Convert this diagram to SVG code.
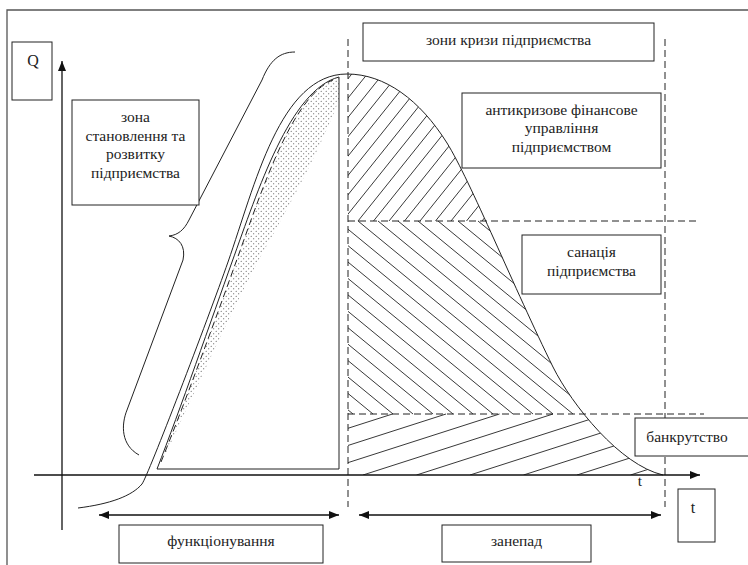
<svg xmlns="http://www.w3.org/2000/svg" width="748" height="565" viewBox="0 0 748 565">
<style>
.box{fill:#fff;stroke:#222;stroke-width:1}
.lbl{font-size:15.5px;fill:#222;text-anchor:middle}
.ln{fill:none;stroke:#222;stroke-width:1}
.dash{fill:none;stroke:#222;stroke-width:1;stroke-dasharray:7,4}
.axis{fill:none;stroke:#111;stroke-width:1.3}
.h{stroke:#222;stroke-width:0.9}
</style>
<defs>
<marker id="ah" viewBox="0 0 10 8" refX="10" refY="4" markerWidth="10" markerHeight="8" markerUnits="userSpaceOnUse" orient="auto-start-reverse">
<path d="M0,0 L10,4 L0,8 Z" fill="#111"/>
</marker>
<pattern id="dots" patternUnits="userSpaceOnUse" width="5" height="5">
<circle cx="1.2" cy="1.2" r="0.55" fill="#444"/>
<circle cx="3.7" cy="3.7" r="0.55" fill="#444"/>
</pattern>
<clipPath id="under">
<path d="M348,74 C385,74 420,100 447,143 C470,180 515,290 553,367 C572,405 620,465 663,475 L348,475 Z"/>
</clipPath>
</defs>
<rect width="748" height="565" fill="#fff"/>
<g id="frame">
<path d="M7,565 L7,10 L748,10" fill="none" stroke="#555" stroke-width="1.3"/>
</g>
<g id="dotted-zone">
<path d="M161,462 C184,405 216,318 236,262 C262,190 292,96 333,80 L339,78 L339,100 C320,150 290,205 257,263 C230,315 200,380 170,445 Z" fill="url(#dots)"/>
</g>
<g id="hatching" clip-path="url(#under)">
<g id="hatch-antikryz">
<line class="h" x1="234" y1="221" x2="363" y2="60"/>
<line class="h" x1="249.5" y1="221" x2="378.5" y2="60"/>
<line class="h" x1="265" y1="221" x2="394" y2="60"/>
<line class="h" x1="280.5" y1="221" x2="409.5" y2="60"/>
<line class="h" x1="296" y1="221" x2="425" y2="60"/>
<line class="h" x1="311.5" y1="221" x2="440.5" y2="60"/>
<line class="h" x1="327" y1="221" x2="456" y2="60"/>
<line class="h" x1="342.5" y1="221" x2="471.5" y2="60"/>
<line class="h" x1="358" y1="221" x2="487" y2="60"/>
<line class="h" x1="373.5" y1="221" x2="502.5" y2="60"/>
<line class="h" x1="389" y1="221" x2="518" y2="60"/>
<line class="h" x1="404.5" y1="221" x2="533.5" y2="60"/>
<line class="h" x1="420" y1="221" x2="549" y2="60"/>
<line class="h" x1="435.5" y1="221" x2="564.5" y2="60"/>
<line class="h" x1="451" y1="221" x2="580" y2="60"/>
<line class="h" x1="466.5" y1="221" x2="595.5" y2="60"/>
<line class="h" x1="482" y1="221" x2="611" y2="60"/>
</g>
<g id="hatch-sanatsiya">
<line class="h" x1="118" y1="221" x2="353" y2="414"/>
<line class="h" x1="138" y1="221" x2="373" y2="414"/>
<line class="h" x1="158" y1="221" x2="393" y2="414"/>
<line class="h" x1="178" y1="221" x2="413" y2="414"/>
<line class="h" x1="198" y1="221" x2="433" y2="414"/>
<line class="h" x1="218" y1="221" x2="453" y2="414"/>
<line class="h" x1="238" y1="221" x2="473" y2="414"/>
<line class="h" x1="258" y1="221" x2="493" y2="414"/>
<line class="h" x1="278" y1="221" x2="513" y2="414"/>
<line class="h" x1="298" y1="221" x2="533" y2="414"/>
<line class="h" x1="318" y1="221" x2="553" y2="414"/>
<line class="h" x1="338" y1="221" x2="573" y2="414"/>
<line class="h" x1="358" y1="221" x2="593" y2="414"/>
<line class="h" x1="378" y1="221" x2="613" y2="414"/>
<line class="h" x1="398" y1="221" x2="633" y2="414"/>
<line class="h" x1="418" y1="221" x2="653" y2="414"/>
<line class="h" x1="438" y1="221" x2="673" y2="414"/>
<line class="h" x1="458" y1="221" x2="693" y2="414"/>
<line class="h" x1="478" y1="221" x2="713" y2="414"/>
</g>
<g id="hatch-bankrut">
<line class="h" x1="202.5" y1="475" x2="392.5" y2="414"/>
<line class="h" x1="256" y1="475" x2="446" y2="414"/>
<line class="h" x1="309.5" y1="475" x2="499.5" y2="414"/>
<line class="h" x1="363" y1="475" x2="553" y2="414"/>
<line class="h" x1="416.5" y1="475" x2="606.5" y2="414"/>
<line class="h" x1="470" y1="475" x2="660" y2="414"/>
<line class="h" x1="523.5" y1="475" x2="713.5" y2="414"/>
<line class="h" x1="577" y1="475" x2="767" y2="414"/>
<line class="h" x1="630.5" y1="475" x2="820.5" y2="414"/>
</g>
</g>
<g id="curves">
<path class="ln" d="M78,508 C110,504 132,496 142,484 C148,476 208,319 228,262 C255,185 280,74 347,74 C385,74 420,100 447,143 C470,180 515,290 553,367 C572,405 620,465 663,475"/>
<path class="ln" d="M157,469 C180,410 212,318 232,262 C258,190 290,90 339,77 L339,469 Z"/>
<path class="dash" d="M161,462 C184,405 216,318 236,262 C262,190 292,96 333,80" stroke-dasharray="6,3"/>
<path class="ln" d="M295,52 C280,52 270,60 262,80 L189,220 C184,230 178,235 169,236 C179,238 186,246 183,260 L127,410 C121,425 121,445 139,455"/>
</g>
<g id="guides">
<line class="dash" x1="348" y1="39" x2="348" y2="507"/>
<line class="dash" x1="665" y1="39" x2="665" y2="507"/>
<line class="dash" x1="348" y1="221" x2="700" y2="221"/>
<line class="dash" x1="348" y1="414" x2="704" y2="414"/>
</g>
<g id="connectors">
<line class="axis" x1="62" y1="530" x2="62" y2="61" marker-end="url(#ah)"/>
<line class="axis" x1="34" y1="475" x2="700" y2="475" marker-end="url(#ah)"/>
<line class="axis" x1="99" y1="515" x2="339" y2="515" marker-start="url(#ah)" marker-end="url(#ah)"/>
<line class="axis" x1="359" y1="515" x2="661" y2="515" marker-start="url(#ah)" marker-end="url(#ah)"/>
</g>
<g id="labels" font-family="Liberation Serif, Times New Roman, serif">
<g id="node-q">
<rect class="box" x="12" y="42" width="40" height="58"/>
<text class="lbl" x="33" y="66" font-family="Liberation Serif, serif" style="font-size:16px">Q</text>
</g>
<g id="node-zona">
<rect class="box" x="72" y="100" width="127" height="105"/>
<text class="lbl" x="135.5" y="122" font-family="Liberation Serif, serif">зона</text>
<text class="lbl" x="135.5" y="141" font-family="Liberation Serif, serif">становлення та</text>
<text class="lbl" x="135.5" y="159" font-family="Liberation Serif, serif">розвитку</text>
<text class="lbl" x="135.5" y="178" font-family="Liberation Serif, serif">підприємства</text>
</g>
<g id="node-kryza">
<rect class="box" x="363" y="23" width="291" height="38"/>
<text class="lbl" x="508.5" y="45" font-family="Liberation Serif, serif">зони кризи підприємства</text>
</g>
<g id="node-antykryz">
<rect class="box" x="462" y="93" width="199" height="75"/>
<text class="lbl" x="561.5" y="115" font-family="Liberation Serif, serif">антикризове фінансове</text>
<text class="lbl" x="561.5" y="133" font-family="Liberation Serif, serif">управління</text>
<text class="lbl" x="561.5" y="152" font-family="Liberation Serif, serif">підприємством</text>
</g>
<g id="node-sanatsiya">
<rect class="box" x="522" y="235" width="139" height="59"/>
<text class="lbl" x="591.5" y="257" font-family="Liberation Serif, serif">санація</text>
<text class="lbl" x="591.5" y="276" font-family="Liberation Serif, serif">підприємства</text>
</g>
<g id="node-bankrut">
<rect class="box" x="635" y="418" width="120" height="38"/>
<text class="lbl" x="687" y="442" font-family="Liberation Serif, serif">банкрутство</text>
</g>
<g id="node-t">
<rect class="box" x="678" y="489" width="37" height="53"/>
<text class="lbl" x="693" y="513" font-family="Liberation Serif, serif" style="font-size:16px">t</text>
</g>
<text class="lbl" x="640" y="486" font-family="Liberation Serif, serif">t</text>
<g id="node-funk">
<rect class="box" x="119" y="525" width="204" height="38"/>
<text class="lbl" x="221" y="546" font-family="Liberation Serif, serif">функціонування</text>
</g>
<g id="node-zanepad">
<rect class="box" x="442" y="525" width="149" height="37"/>
<text class="lbl" x="516.5" y="546" font-family="Liberation Serif, serif">занепад</text>
</g>
</g>
</svg>
